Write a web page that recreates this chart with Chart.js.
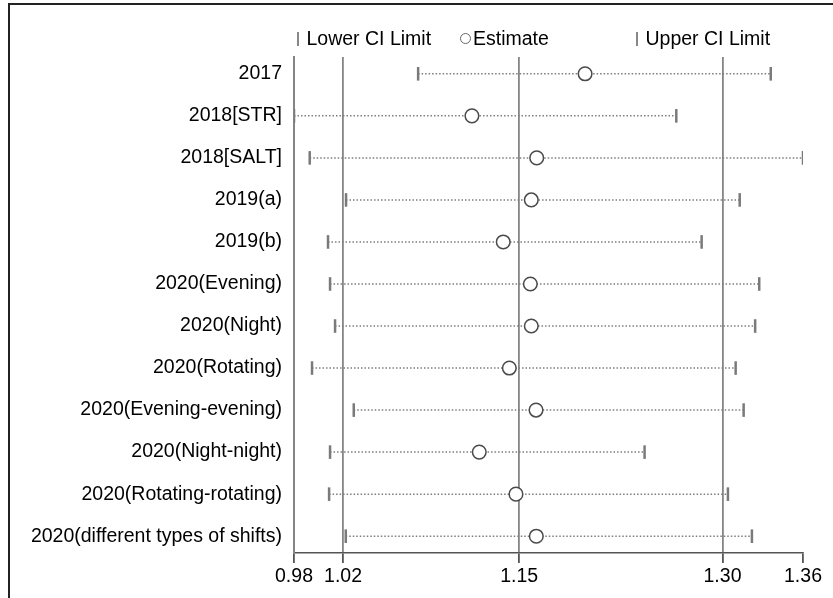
<!DOCTYPE html>
<html>
<head>
    <title>CI Limits by Survey</title>
    <meta charset="utf-8">
    <style>
        body { margin: 0; background: #fff; font-family: 'Liberation Sans', Arial, sans-serif; }
        #wrap { position: relative; width: 833px; height: 598px; overflow: hidden; }
        #frame { position: absolute; left: 8px; top: 3px; width: 900px; height: 700px; border: 2px solid #222; pointer-events: none; }
        .leg { position: absolute; top: 27px; font-size: 19.5px; line-height: 22px; color: #000; white-space: nowrap; }
        .bar { display: inline-block; width: 1.5px; height: 14px; background: #888; vertical-align: -1px; margin-right: 8px; }
        .ring { display: inline-block; width: 9px; height: 9px; border: 1.2px solid #666; border-radius: 50%; margin-right: 2px; vertical-align: 1px; }
    </style>
    <script src="https://cdn.jsdelivr.net/npm/chart.js"></script>
</head>
<body>
<div id="wrap">
    <canvas id="ciChart" width="833" height="598"></canvas>
    <div class="leg" style="left:297px"><span class="bar"></span>Lower CI Limit</div>
    <div class="leg" style="left:460px"><span class="ring"></span>Estimate</div>
    <div class="leg" style="left:636px"><span class="bar"></span>Upper CI Limit</div>
    <div id="frame"></div>
</div>

<script>
    // values
    const categories = [
        '2017', '2018[STR]', '2018[SALT]', '2019(a)', '2019(b)', '2020(Evening)',
        '2020(Night)', '2020(Rotating)', '2020(Evening-evening)', '2020(Night-night)',
        '2020(Rotating-rotating)', '2020(different types of shifts)'
    ];
    const lowerCI  = [1.0754, 0.9838, 0.9954, 1.0222, 1.0089, 1.0104, 1.0141, 0.9971, 1.0279, 1.0104, 1.0097, 1.0220];
    const estimate = [1.1986, 1.1151, 1.1629, 1.1589, 1.1382, 1.1582, 1.1589, 1.1427, 1.1624, 1.1205, 1.1476, 1.1626];
    const upperCI  = [1.3356, 1.2659, 1.3594, 1.3127, 1.2846, 1.3271, 1.3241, 1.3097, 1.3156, 1.2425, 1.3040, 1.3217];

    const xTicks = [0.9838, 1.02, 1.15, 1.30, 1.3594];
    const xTickLabels = ['0.98', '1.02', '1.15', '1.30', '1.36'];

    Chart.defaults.font.family = "'Liberation Sans', Arial, sans-serif";

    const pts = arr => arr.map((v, i) => ({ x: v, y: i }));

    // one broken line: lower -> upper for every row, with a gap between rows
    const rangeData = [];
    categories.forEach((c, i) => {
        rangeData.push({ x: lowerCI[i], y: i }, { x: upperCI[i], y: i }, { x: null, y: null });
    });

    const ctx = document.getElementById('ciChart').getContext('2d');
    new Chart(ctx, {
        type: 'scatter',
        data: {
            datasets: [
                {
                    label: 'Estimate',
                    data: pts(estimate),
                    pointStyle: 'circle',
                    pointRadius: 6.8,
                    borderWidth: 1.5,
                    borderColor: '#4a4a4a',
                    backgroundColor: '#ffffff'
                },
                {
                    label: 'Lower CI Limit',
                    data: pts(lowerCI),
                    pointStyle: 'line',
                    rotation: 90,
                    pointRadius: 6.8,
                    borderWidth: 2.5,
                    borderColor: '#7a7a7a'
                },
                {
                    label: 'Upper CI Limit',
                    data: pts(upperCI),
                    pointStyle: 'line',
                    rotation: 90,
                    pointRadius: 6.8,
                    borderWidth: 2.5,
                    borderColor: '#7a7a7a'
                },
                {
                    label: 'range',
                    data: rangeData,
                    showLine: true,
                    spanGaps: false,
                    pointRadius: 0,
                    borderColor: '#7d7d7d',
                    borderWidth: 1.5,
                    borderDash: [1.5, 2]
                }
            ]
        },
        options: {
            responsive: false,
            animation: false,
            layout: { padding: { top: 57, right: 30, left: 0, bottom: 0 } },
            plugins: {
                legend: { display: false },
                tooltip: { enabled: false }
            },
            scales: {
                x: {
                    type: 'linear',
                    min: xTicks[0],
                    max: xTicks[xTicks.length - 1],
                    afterBuildTicks: s => { s.ticks = xTicks.map(v => ({ value: v })); },
                    afterFit: s => { s.height = 45; },
                    ticks: {
                        callback: (v, i) => xTickLabels[i],
                        font: { size: 19.5 },
                        color: '#000',
                        padding: 2,
                        autoSkip: false,
                        maxRotation: 0
                    },
                    grid: {
                        color: c => (c.index > 0 && c.index < xTicks.length - 1) ? '#858585' : 'rgba(0,0,0,0)',
                        lineWidth: 1.8,
                        tickColor: '#555',
                        tickLength: 10
                    },
                    border: { color: '#555', width: 1.4 }
                },
                y: {
                    type: 'linear',
                    reverse: true,
                    min: -0.4,
                    max: 11.4,
                    afterBuildTicks: s => { s.ticks = categories.map((c, i) => ({ value: i })); },
                    afterFit: s => { s.width = 294; },
                    ticks: {
                        callback: v => categories[v],
                        font: { size: 19.5 },
                        color: '#000',
                        padding: 12,
                        autoSkip: false
                    },
                    grid: { display: false, drawTicks: false },
                    border: { display: true, color: '#858585', width: 2 }
                }
            }
        }
    });
</script>
</body>
</html>
